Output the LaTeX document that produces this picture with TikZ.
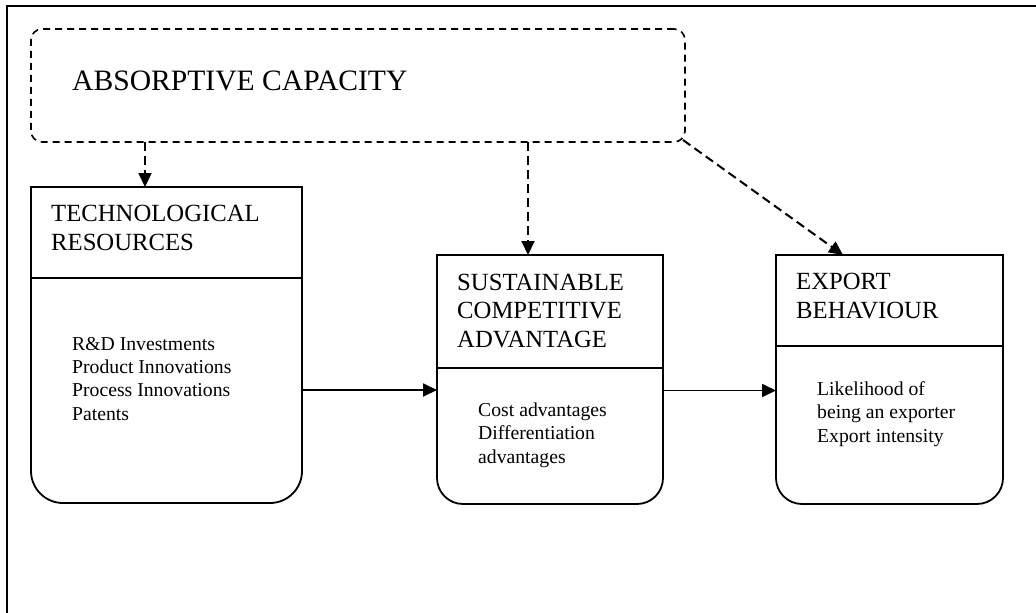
\documentclass[tikz,border=0pt]{standalone}
\usepackage{fontspec}
\setmainfont{Liberation Serif}
\usetikzlibrary{arrows.meta}

\begin{document}
\begin{tikzpicture}[x=1pt, y=-1pt, >={Triangle[length=14pt,width=13pt]},
    frame/.style={line width=2pt},
    block/.style={inner sep=0pt, outer sep=0pt, draw=none},
    edgeline/.style={line width=1.8pt, line cap=rect},
    dashbox/.style={draw, line width=1.6pt, dash pattern=on 7pt off 5pt, rounded corners=11pt, inner sep=0pt, outer sep=0pt},
    dasharrow/.style={->, line width=2pt, dash pattern=on 9pt off 5pt},
    flow/.style={->, line width=1.8pt},
    bigtext/.style={anchor=base west, inner sep=0pt, font=\fontsize{29.6}{34}\selectfont},
    title/.style={anchor=base west, inner sep=0pt, align=left, font=\fontsize{24.7}{28.5}\selectfont},
    items/.style={anchor=base west, inner sep=0pt, align=left, font=\fontsize{19.7}{23.2}\selectfont}]
    \useasboundingbox (0,0) rectangle (1036,613);

    % Frame
    \draw [frame] (1036,6) -- (7,6) -- (7,613);

    % Nodes {absorb, tech, sca, exp}
    \node [dashbox, minimum width=654pt, minimum height=113pt] (absorb) at (358,85.5) {};
    \node [block, minimum width=271pt, minimum height=316pt]   (tech)   at (166.5,345) {};
    \node [block, minimum width=226pt, minimum height=249pt]   (sca)    at (550,379.5) {};
    \node [block, minimum width=227pt, minimum height=249pt]   (exp)    at (889.5,379.5) {};

    % Box outlines
    \draw [edgeline] (tech.north west) -- (tech.north east);
    \draw [edgeline, rounded corners=32pt] (tech.north west) -- (tech.south west) -- (tech.south east) -- (tech.north east);
    \draw [edgeline] ([yshift=-91pt]tech.north west) -- ([yshift=-91pt]tech.north east);

    \draw [edgeline] (sca.north west) -- (sca.north east);
    \draw [edgeline, rounded corners=26pt] (sca.north west) -- (sca.south west) -- (sca.south east) -- (sca.north east);
    \draw [edgeline] ([yshift=-113pt]sca.north west) -- ([yshift=-113pt]sca.north east);

    \draw [edgeline] (exp.north west) -- (exp.north east);
    \draw [edgeline, rounded corners=26pt] (exp.north west) -- (exp.south west) -- (exp.south east) -- (exp.north east);
    \draw [edgeline] ([yshift=-91pt]exp.north west) -- ([yshift=-91pt]exp.north east);

    % Texts (base = last line)
    \node [bigtext] (absorbtext) at ([xshift=41pt,yshift=-61pt]absorb.north west) {ABSORPTIVE CAPACITY};

    \node [title] (techtitle) at ([xshift=20pt,yshift=-63pt]tech.north west) {TECHNOLOGICAL\\RESOURCES};
    \node [items] (techitems) at ([xshift=41pt,yshift=-233pt]tech.north west) {R\&D Investments\\Product Innovations\\Process Innovations\\Patents};

    \node [title] (scatitle) at ([xshift=20pt,yshift=-92pt]sca.north west) {SUSTAINABLE\\COMPETITIVE\\ADVANTAGE};
    \node [items] (scaitems) at ([xshift=41pt,yshift=-208pt]sca.north west) {Cost advantages\\Differentiation\\advantages};

    \node [title] (exptitle) at ([xshift=20pt,yshift=-63pt]exp.north west) {EXPORT\\BEHAVIOUR};
    \node [items] (expitems) at ([xshift=41pt,yshift=-187pt]exp.north west) {Likelihood of\\being an exporter\\Export intensity};

    % Paths
    \coordinate (d1) at ([xshift=-21.5pt]tech.north);
    \coordinate (d2) at ([xshift=-22pt]sca.north);
    \coordinate (d3) at ([xshift=-46.5pt]exp.north);
    \draw [dasharrow] (absorb.south -| d1) -- (d1);
    \draw [dasharrow] (absorb.south -| d2) -- (d2);
    \draw [dasharrow] ([xshift=-2pt,yshift=2pt]absorb.south east) -- (d3);

    \coordinate (h1) at ([yshift=-45pt]tech.east);
    \coordinate (h2) at ([yshift=-11pt]sca.east);
    \draw [flow] (h1) -- (h1 -| sca.west);
    \draw [flow] (h2) -- (h2 -| exp.west);
\end{tikzpicture}
\end{document}
